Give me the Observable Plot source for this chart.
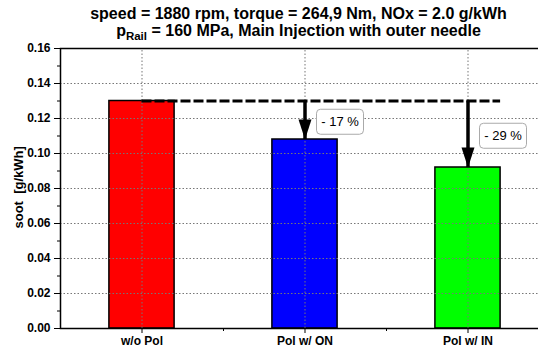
<!DOCTYPE html>
<html><head><meta charset="utf-8">
<script src="https://cdn.jsdelivr.net/npm/d3@7"></script>
<script src="https://cdn.jsdelivr.net/npm/@observablehq/plot@0.6"></script>
<style>
html,body{margin:0;padding:0;background:#fff;overflow:hidden}
#wrap{position:relative;width:538px;height:349px}
#title{position:absolute;left:0;top:5px;width:597px;text-align:center;font:bold 16px "Liberation Sans",Arial,sans-serif;line-height:17px;color:#000;z-index:2}
#title .sub{font-size:11.5px;position:relative;top:4px}
svg{display:block}
</style>
</head><body>
<div id="wrap">
<div id="title">speed = 1880 rpm, torque = 264,9 Nm, NOx = 2.0 g/kWh<br>p<span class="sub">Rail</span> = 160 MPa, Main Injection with outer needle</div>
<div id="chart"></div>
</div>
<script>
// ---- data ----
const categories = ["w/o Pol", "Pol w/ ON", "Pol w/ IN"];
const soot = [0.130, 0.108, 0.092];
const colors = ["#ff0000", "#0000ff", "#00ff00"];
const reference = 0.130;
const reductionLabels = ["", "- 17 %", "- 29 %"];
const yTicks = [0, 0.02, 0.04, 0.06, 0.08, 0.10, 0.12, 0.14, 0.16];
const yMinorTicks = [0.01, 0.03, 0.05, 0.07, 0.09, 0.11, 0.13, 0.15];
const yLabel = "soot\u00a0\u00a0[g/kWh]";

// ---- derived tables ----
const halfWidth = 0.2;
const bars = categories.map((c, i) => ({i, c, v: soot[i], color: colors[i], label: reductionLabels[i]}));
const arrows = bars.filter(d => d.label !== "");
const idx = categories.map((c, i) => i);
const minorX = idx.slice(1).map(i => i - 0.5);

const headSymbol = {draw(ctx) { ctx.moveTo(0, 0); ctx.lineTo(-6.5, -20); ctx.lineTo(6.5, -20); ctx.closePath(); }};
const boxSymbol = {draw(ctx) {
  const w = 23.5, h = 12.5, r = 4;
  ctx.moveTo(-w + r, -h);
  ctx.lineTo(w - r, -h); ctx.arcTo(w, -h, w, -h + r, r);
  ctx.lineTo(w, h - r); ctx.arcTo(w, h, w - r, h, r);
  ctx.lineTo(-w + r, h); ctx.arcTo(-w, h, -w, h - r, r);
  ctx.lineTo(-w, -h + r); ctx.arcTo(-w, -h, -w + r, -h, r);
  ctx.closePath();
}};

const gridStyle = {stroke: "#777", strokeDasharray: "1.5,2", strokeWidth: 1};
const labelY = d => (reference + d.v) / 2;

const plot = Plot.plot({
  width: 538, height: 349,
  marginLeft: 60, marginTop: 48, marginBottom: 21, marginRight: -11,
  style: {fontFamily: "'Liberation Sans', Arial, sans-serif", fontSize: "12px", fontWeight: "bold", background: "white", color: "black"},
  x: {type: "linear", domain: [-0.5, categories.length - 0.5]},
  y: {domain: [0, 0.16]},
  color: {type: "identity"},
  marks: [
    Plot.rectY(bars, {x1: d => d.i - halfWidth, x2: d => d.i + halfWidth, y1: 0, y2: "v", fill: "color", stroke: "black", strokeWidth: 1.5}),
    Plot.ruleY(yTicks.slice(1, -1), gridStyle),
    Plot.ruleX(idx, {...gridStyle, y1: 0, y2: 0.16}),
    Plot.ruleY([reference], {x1: 0, x2: categories.length - 1 + halfWidth, stroke: "black", strokeWidth: 3, strokeDasharray: "10,3"}),
    Plot.ruleX(arrows, {x: "i", y1: reference, y2: "v", stroke: "black", strokeWidth: 3.5}),
    Plot.dot(arrows, {x: "i", y: "v", symbol: headSymbol, fill: "black", stroke: null, r: 5}),
    Plot.dot(arrows, {x: "i", y: labelY, dx: 35, dy: 1.5, symbol: boxSymbol, fill: "white", stroke: "#aaa", strokeWidth: 1, r: 5}),
    Plot.text(arrows, {x: "i", y: labelY, dx: 35, dy: 1.5, text: "label", fontSize: 13, fontWeight: "normal", fill: "black"}),
    Plot.frame({stroke: "black", strokeWidth: 1.5}),
    Plot.axisY({ticks: yTicks, tickFormat: d3.format(".2f"), tickSize: 6, tickPadding: 4, label: null}),
    Plot.axisY({ticks: yMinorTicks, tickFormat: () => "", tickSize: 3, label: null}),
    Plot.axisX({ticks: idx, tickFormat: i => categories[i], tickSize: 5, tickPadding: 3, label: null}),
    Plot.axisX({ticks: minorX, tickFormat: () => "", tickSize: 3, label: null}),
    Plot.text([yLabel], {frameAnchor: "left", rotate: -90, dx: -42, dy: 40, fontSize: 13, fontWeight: "bold", fill: "black"})
  ]
});
document.getElementById("chart").appendChild(plot);
</script>
</body></html>
